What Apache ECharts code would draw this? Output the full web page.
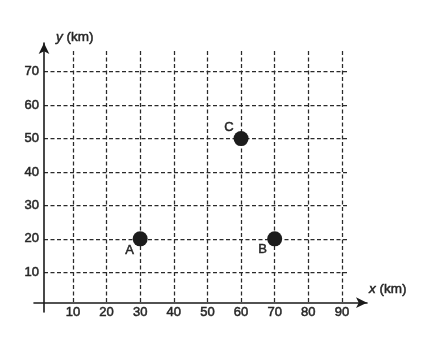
<!DOCTYPE html>
<html>
<head>
<meta charset="utf-8">
<script src="https://cdn.jsdelivr.net/npm/echarts@6/dist/echarts.min.js"></script>
<style>
html,body{margin:0;padding:0;background:#fff;}
#chart{width:431px;height:341px;}
</style>
</head>
<body>
<div id="chart"></div>
<script>
// Data
const pointNames = ['A', 'B', 'C'];
const xValues = [30, 70, 60];
const yValues = [20, 20, 50];
const xTickLabels = [10, 20, 30, 40, 50, 60, 70, 80, 90];
const yTickLabels = [10, 20, 30, 40, 50, 60, 70];
const xAxisName = 'x';
const yAxisName = 'y';
const unitLabel = '(km)';

// Label placement per point (style only)
const labelOffsets = { A: [-10.5, 11.5], B: [-12, 11], C: [-12, -11.5] };

const font = 'Liberation Sans, Arial, sans-serif';
const ink = '#262626';
const heavy = { textBorderColor: ink, textBorderWidth: 0.5 };
const dash = { color: '#2a2a2a', width: 1.25, type: [4, 2.5] };

const chart = echarts.init(document.getElementById('chart'), null, { renderer: 'canvas' });

const scatterData = pointNames.map((n, i) => ({
  name: n,
  value: [xValues[i], yValues[i]],
  label: { offset: labelOffsets[n] }
}));

const option = {
  animation: false,
  backgroundColor: '#fff',
  grid: [
    { left: 44, top: 51, width: 304, height: 251.7, containLabel: false },
    { left: 34, width: 333, top: 100, bottom: 38.3 },
    { left: 44, width: 100, top: 43, bottom: 29 }
  ],
  xAxis: [
    {
      gridIndex: 0, type: 'value', min: 1.4, max: 91.8, splitNumber: 9,
      axisLine: { show: false }, axisTick: { show: false },
      axisLabel: Object.assign({
        margin: 3, color: ink, fontSize: 13, fontFamily: font,
        showMinLabel: false, showMaxLabel: false,
        formatter: v => xTickLabels.includes(Math.round(v * 1000) / 1000) ? String(v) : ''
      }, heavy),
      splitLine: { show: true, showMinLine: false, showMaxLine: false, lineStyle: dash }
    },
    {
      gridIndex: 1, type: 'value', min: 0, max: 1,
      axisLine: { show: true, onZero: false, symbol: ['none', 'arrow'], symbolSize: [8, 11], lineStyle: { color: '#1a1a1a', width: 1.6 } },
      axisTick: { show: false }, axisLabel: { show: false }, splitLine: { show: false },
      name: '{i|' + xAxisName + '} ' + unitLabel,
      nameLocation: 'end', nameGap: 2,
      nameTextStyle: Object.assign({
        color: ink, fontSize: 13.5, fontFamily: font, align: 'left', verticalAlign: 'bottom',
        padding: [0, 0, 6, 0],
        rich: { i: Object.assign({ fontStyle: 'italic', fontSize: 13.5, fontFamily: font, color: ink }, heavy) }
      }, heavy)
    },
    { gridIndex: 2, type: 'value', min: 0, max: 1, show: false }
  ],
  yAxis: [
    {
      gridIndex: 0, type: 'value', min: 0.9, max: 76.2, splitNumber: 7,
      axisLine: { show: false }, axisTick: { show: false },
      axisLabel: Object.assign({
        margin: 5, color: ink, fontSize: 13, fontFamily: font,
        showMinLabel: false, showMaxLabel: false,
        formatter: v => yTickLabels.includes(Math.round(v * 1000) / 1000) ? String(v) : ''
      }, heavy),
      splitLine: { show: true, showMinLine: false, showMaxLine: false, lineStyle: dash }
    },
    { gridIndex: 1, type: 'value', min: 0, max: 1, show: false },
    {
      gridIndex: 2, type: 'value', min: 0, max: 1,
      axisLine: { show: true, onZero: false, symbol: ['none', 'arrow'], symbolSize: [8, 11], lineStyle: { color: '#1a1a1a', width: 1.6 } },
      axisTick: { show: false }, axisLabel: { show: false }, splitLine: { show: false },
      name: '{i|' + yAxisName + '} ' + unitLabel,
      nameLocation: 'end', nameGap: 6,
      nameTextStyle: Object.assign({
        color: ink, fontSize: 13.5, fontFamily: font, align: 'left', verticalAlign: 'middle',
        padding: [0, 0, 0, 12],
        rich: { i: Object.assign({ fontStyle: 'italic', fontSize: 13.5, fontFamily: font, color: ink }, heavy) }
      }, heavy)
    }
  ],
  series: [
    {
      type: 'scatter',
      xAxisIndex: 0, yAxisIndex: 0,
      symbol: 'circle', symbolSize: 15,
      itemStyle: { color: '#1c1c1c', opacity: 1 },
      label: Object.assign({
        show: true, position: 'inside', formatter: '{b}',
        color: ink, fontSize: 13, fontFamily: font
      }, heavy),
      data: scatterData
    }
  ]
};

chart.setOption(option);
</script>
</body>
</html>
